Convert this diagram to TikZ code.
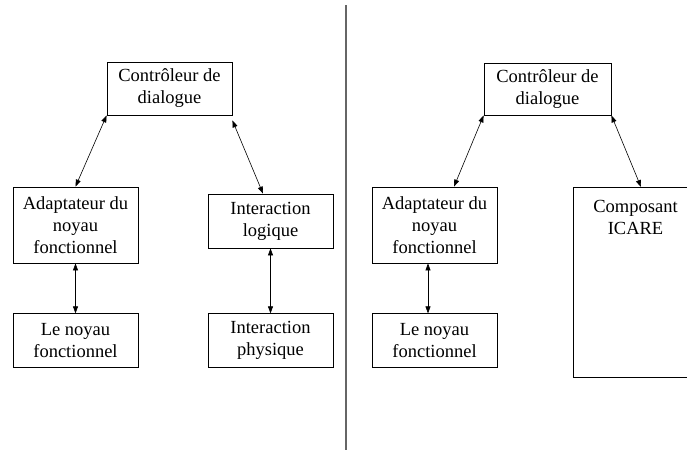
\documentclass[tikz,border=0pt]{standalone}
\usepackage{fontspec}
\setmainfont{Liberation Serif}
\usetikzlibrary{positioning, arrows.meta}

\begin{document}
\begin{tikzpicture}[
        x=1pt, y=-1pt,
        node distance=50pt and 70pt,
        every node/.style={font=\fontsize{18.5}{22}\selectfont},
        box/.style={draw, rectangle, line width=0.8pt, minimum height=54pt, minimum width=125pt, align=center, inner sep=2pt},
        link/.style={{Triangle[length=7pt,width=5pt]}-{Triangle[length=7pt,width=5pt]}, line width=0.6pt},
        sep/.style={draw=black!60, line width=1.8pt}
    ]
    \useasboundingbox (0,0) rectangle (687,450);
    \clip (0,0) rectangle (687,450);

    % left: architecture Arch
    \node[box, minimum height=53pt] (ctrlL) at (169.5,88.5) {Contrôleur de\\dialogue};
    \node[box, minimum height=76pt] (adaptL) at (75.5,225) {Adaptateur du\\noyau\\fonctionnel};
    \node[box] (logique) at (270.5,221) {Interaction\\logique};
    \node[box, below=50pt of adaptL] (noyauL) {Le noyau\\fonctionnel};
    \node[box, below=65pt of logique] (physique) {Interaction\\physique};

    % separation
    \coordinate (septop) at (346,5);
    \coordinate (sepbot) at (346,450);
    \draw[sep] (septop) -- (sepbot);

    % right: with ICARE
    \node[box, minimum width=127pt, minimum height=52pt] (ctrlR) at (547.5,89) {Contrôleur de\\dialogue};
    \node[box, minimum height=76pt] (adaptR) at (434.5,225) {Adaptateur du\\noyau\\fonctionnel};
    \node[box, below=50pt of adaptR] (noyauR) {Le noyau\\fonctionnel};
    \node[box, minimum height=190pt, anchor=north] (icare) at (635.5,187) {};
    \node[below=10pt of icare.north, align=center] (icaretxt) {Composant\\ICARE};

    \draw[link] (ctrlL.south west) -- (adaptL.north);
    \draw[link] ([yshift=-5pt]ctrlL.south east) -- ([xshift=-7.5pt]logique.north);
    \draw[link] (adaptL.south) -- (noyauL.north);
    \draw[link] (logique.south) -- (physique.north);

    \draw[link] (ctrlR.south west) -- ([xshift=19.5pt]adaptR.north);
    \draw[link] (ctrlR.south east) -- ([xshift=5.5pt]icare.north);
    \draw[link] ([xshift=-6.5pt]adaptR.south) -- ([xshift=-6.5pt]noyauR.north);

\end{tikzpicture}
\end{document}
